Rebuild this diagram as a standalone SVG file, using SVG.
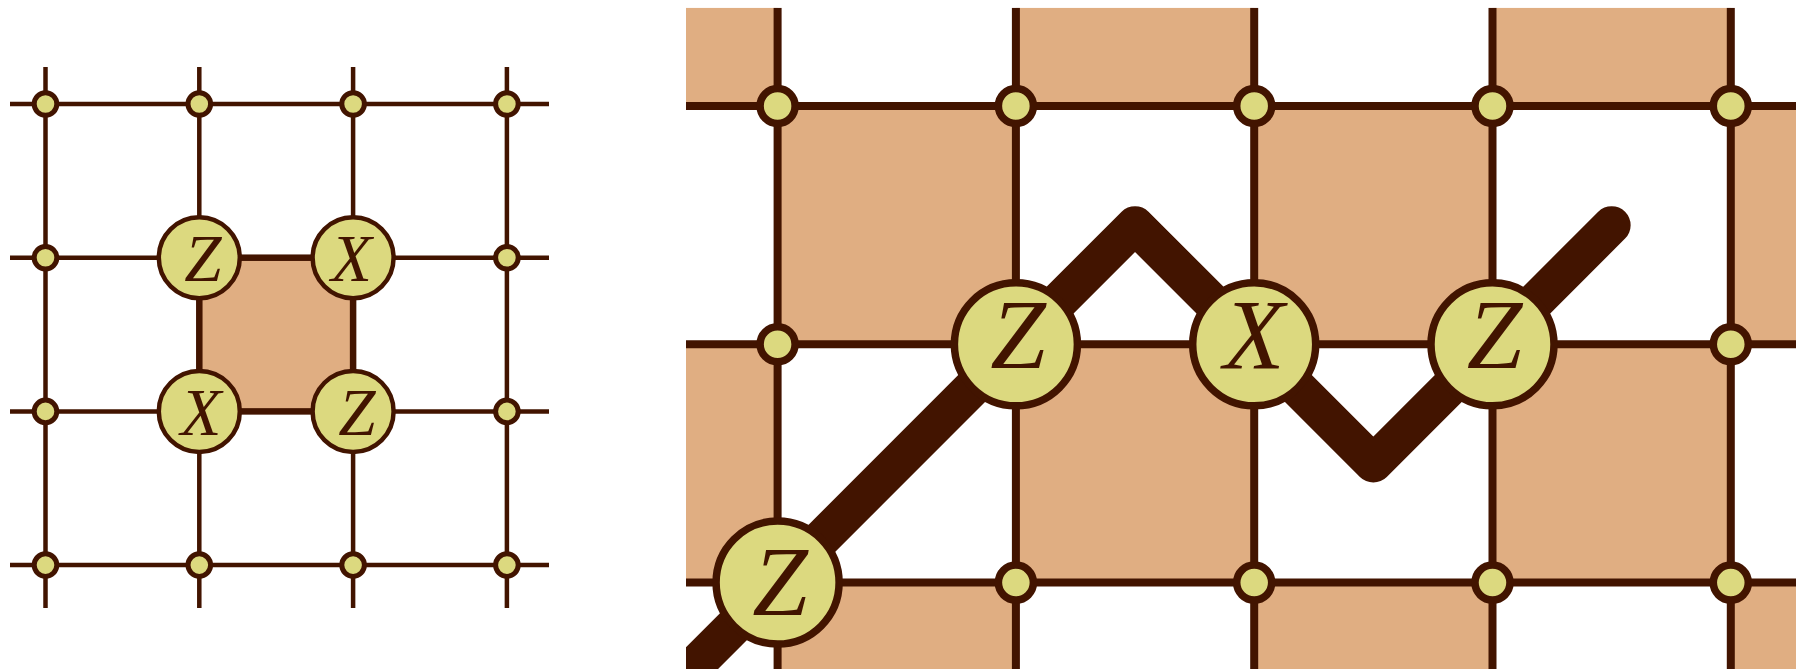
<svg xmlns="http://www.w3.org/2000/svg" width="1796" height="669" viewBox="0 0 1796 669">
<style>
.bg{fill:#ffffff}
.cell{fill:#E0AE82}
.gl{stroke:#421400;stroke-width:4.5;fill:none}
.gr{stroke:#421400;stroke-width:8;fill:none}
.thick{stroke:#421400;stroke-width:6.5;fill:none}
.path{stroke:#421400;stroke-width:38;fill:none;stroke-linecap:round;stroke-linejoin:round}
.sl{fill:#DCD97F;stroke:#421400;stroke-width:5}
.bl{fill:#DCD97F;stroke:#421400;stroke-width:4.5}
.sr{fill:#DCD97F;stroke:#421400;stroke-width:7.5}
.br{fill:#DCD97F;stroke:#421400;stroke-width:7.5}
.tl{font-family:"Liberation Serif","DejaVu Serif",serif;font-style:italic;font-size:67px;fill:#421400;text-anchor:middle}
.tr{font-family:"Liberation Serif","DejaVu Serif",serif;font-style:italic;font-size:100px;fill:#421400;text-anchor:middle}
</style>
<defs>
<clipPath id="panelR"><rect x="686" y="7.7" width="1110" height="661.3"/></clipPath>
</defs>
<rect class="bg" x="0" y="0" width="1796" height="669"/>

<!-- LEFT PANEL -->
<g id="left-plaquette">
<rect class="cell" x="199.3" y="257.7" width="153.8" height="153.7"/>
</g>
<g id="left-connectors">
<line class="gl" x1="10" y1="104" x2="549" y2="104"/>
<line class="gl" x1="10" y1="257.7" x2="549" y2="257.7"/>
<line class="gl" x1="10" y1="411.4" x2="549" y2="411.4"/>
<line class="gl" x1="10" y1="565.1" x2="549" y2="565.1"/>
<line class="gl" x1="45.5" y1="67" x2="45.5" y2="608"/>
<line class="gl" x1="199.3" y1="67" x2="199.3" y2="608"/>
<line class="gl" x1="353.1" y1="67" x2="353.1" y2="608"/>
<line class="gl" x1="506.9" y1="67" x2="506.9" y2="608"/>
<rect class="thick" x="199.3" y="257.7" width="153.8" height="153.7"/>
</g>
<g id="left-small-nodes">
<circle class="sl" cx="45.5" cy="104" r="11.3"/>
<circle class="sl" cx="199.3" cy="104" r="11.3"/>
<circle class="sl" cx="353.1" cy="104" r="11.3"/>
<circle class="sl" cx="506.9" cy="104" r="11.3"/>
<circle class="sl" cx="45.5" cy="257.7" r="11.3"/>
<circle class="sl" cx="506.9" cy="257.7" r="11.3"/>
<circle class="sl" cx="45.5" cy="411.4" r="11.3"/>
<circle class="sl" cx="506.9" cy="411.4" r="11.3"/>
<circle class="sl" cx="45.5" cy="565.1" r="11.3"/>
<circle class="sl" cx="199.3" cy="565.1" r="11.3"/>
<circle class="sl" cx="353.1" cy="565.1" r="11.3"/>
<circle class="sl" cx="506.9" cy="565.1" r="11.3"/>
</g>
<g id="left-Z1"><circle class="bl" cx="199.3" cy="257.7" r="40.5"/><text class="tl" x="203" y="281">Z</text></g>
<g id="left-X1"><circle class="bl" cx="353.1" cy="257.7" r="40.5"/><text class="tl" x="351.5" y="281">X</text></g>
<g id="left-X2"><circle class="bl" cx="199.3" cy="411.4" r="40.5"/><text class="tl" x="201" y="434.7">X</text></g>
<g id="left-Z2"><circle class="bl" cx="353.1" cy="411.4" r="40.5"/><text class="tl" x="357" y="434.7">Z</text></g>

<!-- RIGHT PANEL -->
<g clip-path="url(#panelR)">
<g id="right-cells">
<rect class="cell" x="686" y="7.7" width="91.6" height="98.3"/>
<rect class="cell" x="1015.9" y="7.7" width="238.3" height="98.3"/>
<rect class="cell" x="1492.5" y="7.7" width="238.3" height="98.3"/>
<rect class="cell" x="777.6" y="106" width="238.3" height="238.3"/>
<rect class="cell" x="1254.2" y="106" width="238.3" height="238.3"/>
<rect class="cell" x="1730.8" y="106" width="65.2" height="238.3"/>
<rect class="cell" x="686" y="344.3" width="91.6" height="238.3"/>
<rect class="cell" x="1015.9" y="344.3" width="238.3" height="238.3"/>
<rect class="cell" x="1492.5" y="344.3" width="238.3" height="238.3"/>
<rect class="cell" x="777.6" y="582.6" width="238.3" height="86.4"/>
<rect class="cell" x="1254.2" y="582.6" width="238.3" height="86.4"/>
<rect class="cell" x="1730.8" y="582.6" width="65.2" height="86.4"/>
</g>
<g id="right-connectors">
<line class="gr" x1="686" y1="106" x2="1796" y2="106"/>
<line class="gr" x1="686" y1="344.3" x2="1796" y2="344.3"/>
<line class="gr" x1="686" y1="582.6" x2="1796" y2="582.6"/>
<line class="gr" x1="777.6" y1="7.7" x2="777.6" y2="669"/>
<line class="gr" x1="1015.9" y1="7.7" x2="1015.9" y2="669"/>
<line class="gr" x1="1254.2" y1="7.7" x2="1254.2" y2="669"/>
<line class="gr" x1="1492.5" y1="7.7" x2="1492.5" y2="669"/>
<line class="gr" x1="1730.8" y1="7.7" x2="1730.8" y2="669"/>
<polyline class="path" points="639.6,720.6 777.6,582.6 1015.9,344.3 1135.05,225.15 1254.2,344.3 1373.35,463.45 1492.5,344.3 1611.65,225.15"/>
</g>
<g id="right-small-nodes">
<circle class="sr" cx="777.6" cy="106" r="17.5"/>
<circle class="sr" cx="1015.9" cy="106" r="17.5"/>
<circle class="sr" cx="1254.2" cy="106" r="17.5"/>
<circle class="sr" cx="1492.5" cy="106" r="17.5"/>
<circle class="sr" cx="1730.8" cy="106" r="17.5"/>
<circle class="sr" cx="777.6" cy="344.3" r="17.5"/>
<circle class="sr" cx="1730.8" cy="344.3" r="17.5"/>
<circle class="sr" cx="1015.9" cy="582.6" r="17.5"/>
<circle class="sr" cx="1254.2" cy="582.6" r="17.5"/>
<circle class="sr" cx="1492.5" cy="582.6" r="17.5"/>
<circle class="sr" cx="1730.8" cy="582.6" r="17.5"/>
</g>
<g id="right-Z0"><circle class="br" cx="777.6" cy="582.6" r="61.5"/><text class="tr" x="780" y="614.5">Z</text></g>
<g id="right-Z1"><circle class="br" cx="1015.9" cy="344.3" r="61.5"/><text class="tr" x="1018" y="368">Z</text></g>
<g id="right-X1"><circle class="br" cx="1254.2" cy="344.3" r="61.5"/><text class="tr" x="1254" y="368">X</text></g>
<g id="right-Z2"><circle class="br" cx="1492.5" cy="344.3" r="61.5"/><text class="tr" x="1494.5" y="368">Z</text></g>
</g>
</svg>
